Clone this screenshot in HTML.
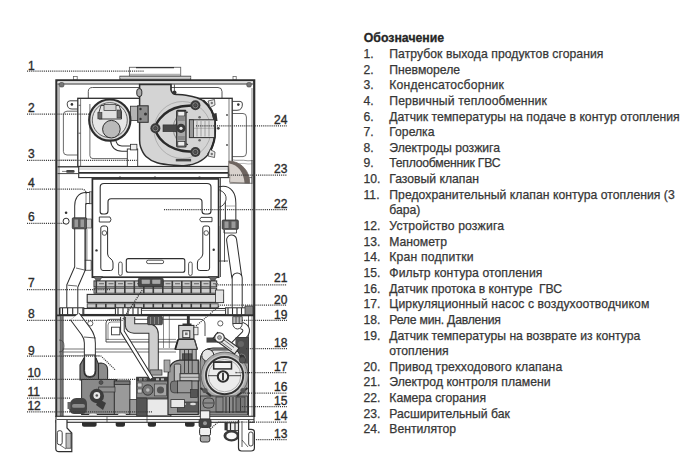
<!DOCTYPE html>
<html><head><meta charset="utf-8"><title>Boiler</title>
<style>
html,body{margin:0;padding:0;background:#fff;width:700px;height:471px;overflow:hidden}
svg{display:block;font-family:"Liberation Sans",sans-serif}
.d{stroke:#3a3a3a;stroke-width:1.25;stroke-dasharray:1.1 1;fill:none}
.lg text{font-size:12.2px;fill:#363636;stroke:#363636;stroke-width:0.25px}
.lb text{font-size:12px;fill:#2c2c2c;stroke:#2c2c2c;stroke-width:0.35px}
</style></head>
<body>
<svg width="700" height="471" viewBox="0 0 700 471">
<rect width="700" height="471" fill="#fff"/>
<g id="top" fill="none" stroke="#333">
  <!-- flue -->
  <rect x="129.4" y="67.3" width="51.3" height="8.8" fill="#fff" stroke="#666" stroke-width="0.9"/>
  <line x1="136" y1="67.6" x2="174" y2="67.6" stroke="#333" stroke-width="1.3"/>
  <line x1="129.8" y1="74.3" x2="180.3" y2="74.3" stroke="#777" stroke-width="0.7"/>
  <rect x="119.9" y="76.2" width="70.8" height="3.8" fill="#b5b5b5" stroke="#444" stroke-width="0.9"/>
  <line x1="120" y1="77.4" x2="190.6" y2="77.4" stroke="#ddd" stroke-width="0.8"/>
  <!-- top tabs -->
  <rect x="73.6" y="76.5" width="3.6" height="3.4" fill="#fff" stroke="#555" stroke-width="0.7"/>
  <rect x="233" y="76.5" width="3.2" height="3.4" fill="#fff" stroke="#555" stroke-width="0.7"/>
  <!-- outer frame -->
  <path d="M56.4,417 V80.3 H254.2 V417" stroke="#2e2e2e" stroke-width="2.2"/>
  <rect x="57.6" y="81.2" width="195.4" height="2.4" fill="#e2e2e2" stroke="none"/>
  <line x1="57.5" y1="84" x2="253" y2="84" stroke="#333" stroke-width="1.1"/>
  <line x1="59" y1="84" x2="59" y2="417" stroke="#444" stroke-width="0.8"/>
  <line x1="252" y1="88" x2="252" y2="417" stroke="#555" stroke-width="0.7"/>
  <rect x="59.4" y="82.5" width="4.5" height="4.5" rx="1.5" fill="#777" stroke="#444" stroke-width="0.6"/>
  <rect x="246.8" y="82.5" width="4.5" height="4.5" rx="1.5" fill="#777" stroke="#444" stroke-width="0.6"/>
  <!-- back panel -->
  <path d="M88.3,98 V91.5 Q88.3,87.5 92.5,87.5 H218 Q222,87.5 222,91.5 V98" stroke="#444" stroke-width="0.9"/>
  <path d="M77.8,111.2 H67 Q63.4,111.2 63.4,115 V151.5 Q63.4,155 67,155 H77.8" stroke="#444" stroke-width="0.8"/>
  <path d="M232.2,113.5 H243 Q246.4,113.5 246.4,117 V153 Q246.4,156.6 243,156.6 H232.2" stroke="#444" stroke-width="0.8"/>
  <!-- ears -->
  <path d="M77.8,100.8 H70 Q67.2,100.8 67.2,103.8 Q67.2,109 72,109 H77.8" fill="#fff" stroke="#333" stroke-width="0.9"/>
  <circle cx="71.9" cy="104.4" r="1.3" fill="#333" stroke="none"/>
  <path d="M232.2,101.4 H240 Q242.4,101.4 242.4,104 Q242.4,110.3 237,110.3 H232.2" fill="#fff" stroke="#333" stroke-width="0.9"/>
  <circle cx="238.3" cy="104.6" r="1.3" fill="#333" stroke="none"/>
  <!-- top box -->
  <rect x="77.8" y="98.3" width="154.4" height="68.2" fill="#fff" stroke="#2e2e2e" stroke-width="1.3"/>
  <line x1="80.6" y1="99" x2="80.6" y2="166" stroke="#444" stroke-width="0.7"/>
  <line x1="229" y1="99" x2="229" y2="166" stroke="#444" stroke-width="0.7"/>
  <line x1="78.5" y1="105.3" x2="80.6" y2="105.3" stroke="#444" stroke-width="0.8"/>
  <line x1="78.5" y1="133.2" x2="80.6" y2="133.2" stroke="#444" stroke-width="0.8"/>
  <path d="M89.9,104 V155.6 Q89.9,158.6 93,158.6 H128" stroke="#444" stroke-width="0.8"/>
  <circle cx="218.3" cy="128.3" r="1.4" fill="#444" stroke="none"/>
  <circle cx="227" cy="115" r="0.9" fill="#444" stroke="none"/>
  <circle cx="227" cy="145" r="0.9" fill="#444" stroke="none"/>
</g>
<g id="fan" stroke="#2e2e2e">
  <path d="M139.6,84.5 H171 V90 Q172,94.2 176.7,94.5 C178.2,94.6 182.6,94.8 186.0,95.3 C189.4,95.8 193.8,96.6 197.0,97.8 C200.2,99.0 203.1,100.4 205.5,102.5 C207.9,104.6 210.0,107.5 211.5,110.4 C213.0,113.3 214.0,116.9 214.6,120.0 C215.2,123.1 215.1,125.5 215.0,129.0 C214.9,132.5 215.2,136.7 214.0,141.0 C212.8,145.3 210.7,151.0 208.0,154.6 C205.3,158.2 201.6,160.5 197.9,162.3 C194.2,164.1 190.0,165.0 186.0,165.5 C182.0,166.0 178.8,165.8 174.0,165.3 C169.2,164.9 161.8,164.3 157.1,162.8 C152.4,161.3 148.8,159.1 146.0,156.5 C143.2,153.9 141.6,149.8 140.6,147.0 C139.6,144.2 139.6,141.2 139.6,140 Z" fill="#d4d4d4" stroke-width="1.5"/>
  <path d="M203.1,100.4 C207.9,104.6 210.0,107.5 211.5,110.4 C213.0,113.3 214.0,116.9 214.6,120.0 C215.2,123.1 215.1,125.5 215.0,129.0 C214.9,132.5 215.2,136.7 214.0,141.0 C212.8,145.3 210.7,151.0 208.0,154.6" fill="none" stroke="#2a2a2a" stroke-width="2.2"/>
  <path d="M212,114 L216.5,113 L217.5,121 L213.5,121 Z" fill="#333" stroke="none"/>
  <line x1="171" y1="84.5" x2="171" y2="90" stroke-width="0.8"/>
  <line x1="174.4" y1="84.5" x2="174.4" y2="92" stroke-width="0.8"/>
  <circle cx="174.5" cy="92.5" r="2" fill="#333" stroke="none"/>
  <rect x="136.8" y="88.6" width="5" height="8" rx="2.5" fill="#aaa" stroke-width="1"/>
  <circle cx="182.5" cy="130" r="28.5" fill="none" stroke="#888" stroke-width="0.5"/>
  <path d="M195.4,105.3 C193.0,105.5 185.4,105.6 181.0,106.5 C176.6,107.4 172.5,108.8 169.0,110.8 C165.5,112.8 162.3,115.6 160.0,118.5 C157.7,121.4 155.4,125.0 155.4,128.3 C155.4,131.6 157.7,135.6 160.0,138.5 C162.3,141.4 165.5,144.0 169.0,146.0 C172.5,148.0 176.6,149.5 181.0,150.5 C185.4,151.5 193.0,151.8 195.4,152.0" fill="none" stroke="#2a2a2a" stroke-width="2.5"/>
  <path d="M188,112 A17,17 0 0 0 188,144.6" fill="none" stroke="#333" stroke-width="1.1"/>
  <path d="M186,110 A19.5,19.5 0 0 0 186,146.6" fill="none" stroke="#555" stroke-width="0.6"/>
  <!-- motor right -->
  <rect x="189.4" y="119.8" width="25.3" height="17.8" fill="#dedede" stroke-width="1"/>
  <rect x="189.4" y="119.8" width="4" height="17.8" fill="#999" stroke-width="0.8"/>
  <line x1="197" y1="121" x2="197" y2="136.5" stroke="#777" stroke-width="0.6"/>
  <line x1="201" y1="121" x2="201" y2="136.5" stroke="#777" stroke-width="0.6"/>
  <line x1="205" y1="121" x2="205" y2="136.5" stroke="#777" stroke-width="0.6"/>
  <line x1="209" y1="121" x2="209" y2="136.5" stroke="#777" stroke-width="0.6"/>
  <line x1="193.5" y1="128.3" x2="214.5" y2="128.3" stroke="#555" stroke-width="0.6" stroke-dasharray="1 1"/>
  <!-- center vertical bar -->
  <rect x="176.7" y="110.4" width="9.3" height="36.6" rx="1" fill="#a8a8a8" stroke-width="1.2"/>
  <rect x="177.8" y="111.5" width="7" height="4.5" fill="#eee" stroke-width="0.7"/>
  <rect x="177.8" y="141.5" width="7" height="4.5" fill="#eee" stroke-width="0.7"/>
  <rect x="177.8" y="117" width="7" height="4" fill="#888" stroke="none"/>
  <rect x="177.8" y="136" width="7" height="4" fill="#888" stroke="none"/>
  <rect x="163" y="124.9" width="14" height="6.8" fill="#484848" stroke-width="0.6"/>
  <circle cx="181" cy="128.3" r="4.6" fill="#3a3a3a" stroke="none"/>
  <circle cx="181" cy="128.3" r="1.6" fill="#eee" stroke="none"/>
  <!-- bolts -->
  <g fill="#3a3a3a" stroke="none">
    <circle cx="195.4" cy="105.3" r="5"/><circle cx="155.4" cy="128.3" r="5"/><circle cx="195.4" cy="152" r="5"/>
  </g>
  <g fill="none" stroke="#999" stroke-width="0.8">
    <circle cx="195.4" cy="105.3" r="2.6"/><circle cx="155.4" cy="128.3" r="2.6"/><circle cx="195.4" cy="152" r="2.6"/>
  </g>
  <g fill="#555" stroke="none">
    <circle cx="195.4" cy="105.3" r="1.2"/><circle cx="155.4" cy="128.3" r="1.2"/><circle cx="195.4" cy="152" r="1.2"/>
  </g>
  <circle cx="199.6" cy="117.2" r="1.3" fill="#666" stroke="none"/>
  <circle cx="199.6" cy="140.2" r="1.3" fill="#666" stroke="none"/>
  <!-- tabs -->
  <path d="M208,101 L214.5,99.5 L215,105 L210,107.5 Z" fill="#e8e8e8" stroke-width="0.7"/>
  <circle cx="211.8" cy="103" r="1.2" fill="#777" stroke="none"/>
  <path d="M208,156 L214.5,157.5 L215,152 L210,149.5 Z" fill="#e8e8e8" stroke-width="0.7"/>
  <circle cx="211.8" cy="154" r="1.2" fill="#777" stroke="none"/>
  <rect x="175.8" y="158.9" width="15.3" height="2.5" fill="#444" stroke="none"/>
  <circle cx="189" cy="166" r="1.3" fill="#444" stroke="none"/>
  <!-- bracket -->
  <rect x="130.5" y="106.2" width="8" height="14.3" fill="#b4b4b4" stroke-width="0.8"/>
  <rect x="137.7" y="105.8" width="10.5" height="16.5" fill="#8c8c8c" stroke-width="1"/>
  <circle cx="140.5" cy="109" r="1.2" fill="#333" stroke="none"/>
  <circle cx="145.5" cy="114" r="1.5" fill="#333" stroke="none"/>
  <circle cx="140.5" cy="119" r="1.2" fill="#333" stroke="none"/>
</g>
<g id="pswitch" stroke="#2e2e2e">
  <path d="M113,139.5 Q114,148.6 122,148.6 H131" fill="none" stroke="#333" stroke-width="6.4"/>
  <path d="M113,139.5 Q114,148.6 122,148.6 H131" fill="none" stroke="#fff" stroke-width="4.2"/>
  <rect x="127.3" y="149" width="10.4" height="19.2" fill="#fff" stroke-width="0.9"/>
  <rect x="130.5" y="144.3" width="6.4" height="5.6" fill="#eee" stroke-width="0.8"/>
  <circle cx="109.8" cy="120.1" r="20.6" fill="#dcdcdc" stroke-width="2.2"/>
  <circle cx="109.8" cy="120.1" r="17.5" fill="#e6e6e6" stroke="#444" stroke-width="0.8"/>
  <path d="M99,112 L101,105.5 H119 L121.5,112 V119 H99 Z" fill="#e2e2e2" stroke-width="0.9"/>
  <rect x="104" y="104.5" width="12" height="6" fill="#d2d2d2" stroke-width="0.7"/>
  <rect x="97.9" y="112.5" width="4" height="6.4" fill="#6a6a6a" stroke-width="0.6"/>
  <rect x="117" y="110" width="4" height="8" fill="#6a6a6a" stroke-width="0.6"/>
  <circle cx="111.4" cy="129.2" r="8.8" fill="#bababa" stroke-width="1"/>
</g>

<g id="plate" stroke="#2e2e2e" fill="none">
  <line x1="57.5" y1="166.8" x2="78.5" y2="166.8" stroke-width="1.3"/>
  <line x1="57.5" y1="173.6" x2="78.5" y2="173.6" stroke-width="0.9"/>
  <rect x="66.1" y="170" width="8.5" height="2.8" rx="1.2" fill="#444" stroke="none"/>
  <line x1="62" y1="171.4" x2="66" y2="171.4" stroke-width="0.6"/>
  <rect x="78.7" y="166.6" width="149.6" height="11" fill="#fff" stroke-width="1.1"/>
  <line x1="79" y1="172.9" x2="228" y2="172.9" stroke-width="1.8"/>
  <line x1="78.6" y1="169" x2="228.3" y2="169" stroke="#777" stroke-width="0.5"/>
  <line x1="228.3" y1="177.6" x2="252" y2="177.6" stroke-width="0.7"/>
  <circle cx="120" cy="177.8" r="1.3" fill="#333" stroke="none"/>
  <circle cx="155" cy="177.8" r="1.3" fill="#333" stroke="none"/>
  <circle cx="199.5" cy="177.8" r="1.3" fill="#333" stroke="none"/>
  <line x1="59" y1="160" x2="78" y2="160" stroke="#888" stroke-width="0.5"/>
</g>
<g id="tank">
  <path d="M232,159.8 C236,161 242,159.5 248,160.8 L252.5,160.5" fill="none" stroke="#555" stroke-width="0.6"/>
  <path d="M232,163 C237,164.5 243,162.5 248,164 L252.5,163.8" fill="none" stroke="#777" stroke-width="0.5"/>
  <line x1="252" y1="160" x2="252" y2="184" stroke="#444" stroke-width="0.8"/>
  <path d="M228.8,161 A21,21 0 0 1 249.6,183.3 L229.6,182.3 Q230.2,177 229.2,172 Q228.5,166 228.8,161 Z" fill="#d8d2cd" stroke="#6b625c" stroke-width="0.7"/>
  <path d="M228.8,161 A21,21 0 0 1 249.6,183.3 L244.6,183.3 C244,173 238,164.5 229.2,163.6 Z" fill="#6e6560" stroke="none"/>
  <line x1="229.6" y1="183.3" x2="252" y2="183.3" stroke="#555" stroke-width="0.7"/>
</g>
<g id="pipes_up" fill="none" stroke="#2e2e2e">
  <!-- left upper pipe -->
  <path d="M91.6,198 H86 Q80.2,198 80.2,206 V268 L72.3,286 V308" stroke="#2e2e2e" stroke-width="12"/>
  <path d="M91.6,198 H86 Q80.2,198 80.2,206 V268 L72.3,286 V308" stroke="#fff" stroke-width="10"/>
  <line x1="76" y1="268" x2="84.5" y2="270" stroke-width="0.7"/>
  <line x1="67.6" y1="285.2" x2="77" y2="286" stroke-width="0.7"/>
  <path d="M86,191.5 V205" stroke-width="0.6"/>
  <rect x="89.5" y="191.8" width="2.6" height="12" fill="#ccc" stroke-width="0.6"/>
  <path d="M84.8,229 V270.3 H91.2 V260.3 H84.8" stroke-width="0.8"/>
  <line x1="87" y1="229" x2="87" y2="260" stroke-width="0.5"/>
  <!-- left fitting -->
  <rect x="72.3" y="217.8" width="14.4" height="11" rx="1" fill="#5a5a5a" stroke-width="0.8"/>
  <rect x="74.5" y="219.5" width="3.5" height="7.5" fill="#9a9a9a" stroke="none"/>
  <rect x="80.5" y="219.5" width="3.5" height="7.5" fill="#9a9a9a" stroke="none"/>
  <rect x="86.6" y="219" width="5" height="9" fill="#cfcfcf" stroke-width="0.6"/>
  <!-- sensor 6 -->
  <circle cx="66.1" cy="221.2" r="3" fill="#fff" stroke-width="1"/>
  <circle cx="66.1" cy="212.7" r="1.3" fill="#333" stroke="none"/>
  <!-- right upper pipe -->
  <path d="M220,192 C228,190 230.6,196 230.6,203 V224" stroke="#2e2e2e" stroke-width="11.5"/>
  <path d="M220,192 C228,190 230.6,196 230.6,203 V224" stroke="#fff" stroke-width="9.5"/>
  <path d="M231.6,240 L236.6,276" stroke="#2e2e2e" stroke-width="11" stroke-linecap="round"/>
  <path d="M231.6,240 L236.6,276" stroke="#fff" stroke-width="9" stroke-linecap="round"/>
  <path d="M237.2,278 V309" stroke="#2e2e2e" stroke-width="11" stroke-linecap="round"/>
  <path d="M237.2,278 V309" stroke="#fff" stroke-width="9" stroke-linecap="round"/>
  <path d="M224,229.3 V233 H236.5 V229.3" fill="none" stroke="#2e2e2e" stroke-width="0.8"/>
  <line x1="218.8" y1="226" x2="218.8" y2="262" stroke="#2e2e2e" stroke-width="0.8"/>
  <line x1="224.5" y1="230" x2="224.5" y2="262" stroke="#2e2e2e" stroke-width="0.8"/>
  <line x1="218.8" y1="261" x2="228" y2="261" stroke="#2e2e2e" stroke-width="0.8"/>
  <path d="M219.5,190 Q227,193 226,200 Q224,206 219.5,207" fill="#fff" stroke-width="0.9"/>
  <line x1="225.5" y1="206" x2="235.7" y2="206" stroke="#777" stroke-width="0.6"/>
  <!-- right fitting -->
  <rect x="222.2" y="220" width="16.1" height="9.3" rx="1" fill="#5a5a5a" stroke-width="0.8"/>
  <rect x="224.5" y="221.5" width="4" height="6.5" fill="#9a9a9a" stroke="none"/>
  <rect x="231.5" y="221.5" width="4" height="6.5" fill="#9a9a9a" stroke="none"/>
  
</g>
<g id="chamber" stroke="#2e2e2e" fill="none">
  <rect x="92.4" y="178.9" width="126.2" height="98.3" fill="#fff" stroke-width="1.7"/>
  <line x1="220.5" y1="178" x2="220.5" y2="277" stroke-width="0.8"/>
  <path d="M100.2,212 V187 Q100.2,183.5 104,183.5 H207 Q211,183.5 211,187 V211 Q211,214 208,214 H205 Q202,214 202,211 V202 Q202,198.8 199,198.8 H111 Q108,198.8 108,202 V211 Q108,214 105,214 H103 Q100.2,214 100.2,212 Z" stroke-width="1.1"/>
  <path d="M99.3,217 H110 Q112,219.5 110,222 H99.3 Z" stroke-width="0.9"/>
  <path d="M212,217.4 H201 Q198.4,219.5 201,221.7 H212 Z" stroke-width="0.9"/>
  <path d="M100.8,228 Q100.8,226 103,226 H105.5 Q107.6,226 107.6,228 V254 Q107.6,257 111,259 Q113,260.5 113,263 V268 Q113,270.5 110.5,270.5 H103 Q100.8,270.5 100.8,268 Z" stroke-width="1"/>
  <path d="M209.6,228 Q209.6,226 207.4,226 H204.9 Q202.8,226 202.8,228 V254 Q202.8,257 199.4,259 Q197.4,260.5 197.4,263 V268 Q197.4,270.5 199.9,270.5 H207.4 Q209.6,270.5 209.6,268 Z" stroke-width="1"/>
  <circle cx="104.4" cy="233" r="2.3" stroke-width="0.8"/>
  <circle cx="206.2" cy="233" r="2.3" stroke-width="0.8"/>
  <rect x="126.3" y="258.6" width="58.5" height="13.6" rx="2" stroke-width="1.1"/>
  <rect x="146.5" y="260.2" width="17.2" height="3.4" rx="1.7" stroke-width="0.8"/>
  <rect x="118.6" y="262" width="3.6" height="13.5" rx="1.8" stroke-width="0.8"/>
  <rect x="188.6" y="262" width="3.6" height="13.5" rx="1.8" stroke-width="0.8"/>
  <circle cx="96.5" cy="250.4" r="1.2" fill="#333" stroke="none"/>
  <circle cx="213.7" cy="249.7" r="1.2" fill="#333" stroke="none"/>
  <circle cx="155" cy="199.5" r="0" fill="#333" stroke="none"/>
</g>

<g id="burner" stroke="#2e2e2e">
<path d="M93.5,276.5 H102.5 L100,280 V282.5 H96 V280 Z" fill="#666" stroke-width="0.6"/>
<path d="M208.5,276.5 H217.4 L215,280 V283 H211 V280 Z" fill="#666" stroke-width="0.6"/>
<rect x="94" y="280.9" width="122.7" height="6" fill="#c9c9c9" stroke-width="1"/>
<rect x="94" y="288.2" width="122.7" height="5" fill="#cdcdcd" stroke-width="0.9"/>
<rect x="87.2" y="294.4" width="136" height="8" fill="#dadada" stroke-width="1.1"/>
<rect x="215.5" y="290" width="8.2" height="12.7" fill="#e4e4e4" stroke-width="0.8"/>
<rect x="87.2" y="303.8" width="131" height="4" fill="#c9c9c9" stroke-width="0.8"/>
<rect x="95.5" y="281" width="1.6" height="12.2" fill="#3a3a3a" stroke="none"/>
<rect x="95.5" y="303.8" width="1.6" height="4" fill="#3a3a3a" stroke="none"/>
<rect x="105.0" y="281" width="1.6" height="12.2" fill="#3a3a3a" stroke="none"/>
<rect x="105.0" y="303.8" width="1.6" height="4" fill="#3a3a3a" stroke="none"/>
<rect x="114.5" y="281" width="1.6" height="12.2" fill="#3a3a3a" stroke="none"/>
<rect x="114.5" y="303.8" width="1.6" height="4" fill="#3a3a3a" stroke="none"/>
<rect x="124.0" y="281" width="1.6" height="12.2" fill="#3a3a3a" stroke="none"/>
<rect x="124.0" y="303.8" width="1.6" height="4" fill="#3a3a3a" stroke="none"/>
<rect x="133.5" y="281" width="1.6" height="12.2" fill="#3a3a3a" stroke="none"/>
<rect x="133.5" y="303.8" width="1.6" height="4" fill="#3a3a3a" stroke="none"/>
<rect x="143.0" y="281" width="1.6" height="12.2" fill="#3a3a3a" stroke="none"/>
<rect x="143.0" y="303.8" width="1.6" height="4" fill="#3a3a3a" stroke="none"/>
<rect x="152.5" y="281" width="1.6" height="12.2" fill="#3a3a3a" stroke="none"/>
<rect x="152.5" y="303.8" width="1.6" height="4" fill="#3a3a3a" stroke="none"/>
<rect x="162.0" y="281" width="1.6" height="12.2" fill="#3a3a3a" stroke="none"/>
<rect x="162.0" y="303.8" width="1.6" height="4" fill="#3a3a3a" stroke="none"/>
<rect x="171.5" y="281" width="1.6" height="12.2" fill="#3a3a3a" stroke="none"/>
<rect x="171.5" y="303.8" width="1.6" height="4" fill="#3a3a3a" stroke="none"/>
<rect x="181.0" y="281" width="1.6" height="12.2" fill="#3a3a3a" stroke="none"/>
<rect x="181.0" y="303.8" width="1.6" height="4" fill="#3a3a3a" stroke="none"/>
<rect x="190.5" y="281" width="1.6" height="12.2" fill="#3a3a3a" stroke="none"/>
<rect x="190.5" y="303.8" width="1.6" height="4" fill="#3a3a3a" stroke="none"/>
<rect x="200.0" y="281" width="1.6" height="12.2" fill="#3a3a3a" stroke="none"/>
<rect x="200.0" y="303.8" width="1.6" height="4" fill="#3a3a3a" stroke="none"/>
<rect x="209.5" y="281" width="1.6" height="12.2" fill="#3a3a3a" stroke="none"/>
<rect x="209.5" y="303.8" width="1.6" height="4" fill="#3a3a3a" stroke="none"/>
<rect x="99.0" y="283" width="5" height="1.3" fill="#777" stroke="none"/>
<rect x="108.5" y="283" width="5" height="1.3" fill="#777" stroke="none"/>
<rect x="118.0" y="283" width="5" height="1.3" fill="#777" stroke="none"/>
<rect x="127.5" y="283" width="5" height="1.3" fill="#777" stroke="none"/>
<rect x="137.0" y="283" width="5" height="1.3" fill="#777" stroke="none"/>
<rect x="146.5" y="283" width="5" height="1.3" fill="#777" stroke="none"/>
<rect x="156.0" y="283" width="5" height="1.3" fill="#777" stroke="none"/>
<rect x="165.5" y="283" width="5" height="1.3" fill="#777" stroke="none"/>
<rect x="175.0" y="283" width="5" height="1.3" fill="#777" stroke="none"/>
<rect x="184.5" y="283" width="5" height="1.3" fill="#777" stroke="none"/>
<rect x="194.0" y="283" width="5" height="1.3" fill="#777" stroke="none"/>
<rect x="203.5" y="283" width="5" height="1.3" fill="#777" stroke="none"/>
<rect x="213.0" y="283" width="5" height="1.3" fill="#777" stroke="none"/>
<rect x="138.4" y="277.9" width="24.8" height="8.9" rx="1.5" fill="#4a4a4a" stroke-width="0.8"/>
<rect x="141.3" y="279.3" width="9" height="5" rx="1" fill="#a8a8a8" stroke="#333" stroke-width="0.6"/>
<rect x="151.8" y="279.3" width="9" height="5" rx="1" fill="#a8a8a8" stroke="#333" stroke-width="0.6"/>
<rect x="59.5" y="308.5" width="194" height="6" fill="#fff" stroke-width="1.1"/>
<line x1="141" y1="310.5" x2="225" y2="310.5" stroke-width="0.6"/>
<rect x="60" y="307.8" width="23.8" height="7" fill="#fff" stroke-width="1"/>
<line x1="62.5" y1="308" x2="62.5" y2="314.6" stroke-width="1.1"/>
<line x1="67.6" y1="308" x2="67.6" y2="314.6" stroke-width="1.1"/>
<line x1="72.7" y1="308" x2="72.7" y2="314.6" stroke-width="1.1"/>
<line x1="77.8" y1="308" x2="77.8" y2="314.6" stroke-width="1.1"/>
<line x1="82.9" y1="308" x2="82.9" y2="314.6" stroke-width="1.1"/>
<rect x="115.4" y="307.8" width="26" height="7" fill="#fff" stroke-width="1"/>
<line x1="118" y1="308" x2="118" y2="314.6" stroke-width="1.1"/>
<line x1="123" y1="308" x2="123" y2="314.6" stroke-width="1.1"/>
<line x1="128" y1="308" x2="128" y2="314.6" stroke-width="1.1"/>
<line x1="133" y1="308" x2="133" y2="314.6" stroke-width="1.1"/>
<line x1="138" y1="308" x2="138" y2="314.6" stroke-width="1.1"/>
<rect x="225.6" y="307.8" width="28" height="7" fill="#fff" stroke-width="1"/>
<line x1="228" y1="308" x2="228" y2="314.6" stroke-width="1.1"/>
<line x1="232.5" y1="308" x2="232.5" y2="314.6" stroke-width="1.1"/>
<line x1="237" y1="308" x2="237" y2="314.6" stroke-width="1.1"/>
<line x1="241.5" y1="308" x2="241.5" y2="314.6" stroke-width="1.1"/>
<line x1="246" y1="308" x2="246" y2="314.6" stroke-width="1.1"/>
<line x1="250.5" y1="308" x2="250.5" y2="314.6" stroke-width="1.1"/>
<rect x="245" y="306" width="8" height="9" fill="#888" stroke-width="0.7"/>
<line x1="56" y1="315.4" x2="254.5" y2="315.4" stroke-width="1.6"/>
</g>
<g id="lower_bg" fill="none" stroke="#3a3a3a">
  <line x1="61.8" y1="316" x2="61.8" y2="417" stroke="#777" stroke-width="2.6"/>
  <line x1="60.4" y1="316" x2="60.4" y2="417" stroke="#333" stroke-width="0.7"/>
  <line x1="63.2" y1="316" x2="63.2" y2="417" stroke="#333" stroke-width="0.7"/>
  <path d="M59,340 Q64,340 64,346 Q64,352 59,352" stroke-width="0.7"/>
  <line x1="62.5" y1="349" x2="176" y2="349" stroke-width="0.7"/>
  <line x1="62.5" y1="352" x2="176" y2="352" stroke-width="0.7"/>
  <line x1="59" y1="355.5" x2="100" y2="355.5" stroke="#777" stroke-width="0.5"/>
  <path d="M106,342 V323 Q106,319.3 110,319.3 H200 Q205,319.3 205,324 V336" stroke-width="0.9"/>
  <path d="M108,340 V325 Q108,322 111,322 H120" stroke-width="0.6"/>
  <line x1="106" y1="342" x2="176" y2="342" stroke-width="0.9"/>
  <line x1="106" y1="339.4" x2="176" y2="339.4" stroke-width="0.6"/>
  <rect x="111.5" y="327.2" width="8.3" height="7.6" fill="#fff" stroke-width="0.9"/>
  <circle cx="90.3" cy="323.4" r="2.6" fill="#fff" stroke-width="0.8"/>
  <circle cx="220.3" cy="323.4" r="2.6" fill="#fff" stroke-width="0.8"/>
  <line x1="163.5" y1="316" x2="163.5" y2="348" stroke-width="0.6"/>
  <line x1="169.3" y1="316" x2="169.3" y2="348" stroke-width="0.6"/>
  <line x1="248.5" y1="316" x2="248.5" y2="416" stroke-width="0.8"/>
</g>
<g id="lower_pipes" fill="none">
  <!-- left lower pipe -->
  <path d="M74.8,316.5 L86,331.5 Q89.85,337 89.85,343 V374" stroke="#2e2e2e" stroke-width="12"/>
  <path d="M74.8,316.5 L86,331.5 Q89.85,337 89.85,343 V374" stroke="#fff" stroke-width="10"/>
  <line x1="83.9" y1="337" x2="95.8" y2="338" stroke="#333" stroke-width="0.8"/>
  <!-- diagonal pipe -->

  <!-- U pipe + horizontal + vertical gray -->
  <path d="M130,317 V325 Q130,328.5 134,328.5 H148 Q153.6,328.5 153.6,334 V372" stroke="#2e2e2e" stroke-width="10.4"/>
  <path d="M130,317 V325 Q130,328.5 134,328.5 H148 Q153.6,328.5 153.6,334 V372" stroke="#cfcfcf" stroke-width="8.4"/>
  <rect x="147.6" y="316.3" width="14.8" height="8.4" rx="1" fill="#555" stroke="#2e2e2e" stroke-width="0.7"/>
  <line x1="150.5" y1="317" x2="150.5" y2="324" stroke="#999" stroke-width="0.8"/>
  <line x1="154.5" y1="317" x2="154.5" y2="324" stroke="#999" stroke-width="0.8"/>
  <line x1="158.5" y1="317" x2="158.5" y2="324" stroke="#999" stroke-width="0.8"/>
  <rect x="150" y="369.9" width="12" height="5.2" fill="#9a9a9a" stroke="#2e2e2e" stroke-width="0.7"/>
  <!-- right lower pipe -->
  <path d="M241.5,325.5 Q248.5,328 245,334 L231,348" stroke="#2e2e2e" stroke-width="7.6"/>
  <path d="M241.5,325.5 Q248.5,328 245,334 L231,348" stroke="#fff" stroke-width="5.6"/>
  <path d="M232.8,323.5 A4.7,5.5 0 0 0 242.2,323.5 Z" fill="#fff" stroke="#2e2e2e" stroke-width="0.9"/>
  <rect x="232.8" y="316.7" width="9.4" height="6.8" fill="#bdbdbd" stroke="#2e2e2e" stroke-width="0.8"/>
  <line x1="236" y1="317" x2="236" y2="323" stroke="#444" stroke-width="0.9"/>
  <line x1="239.2" y1="317" x2="239.2" y2="323" stroke="#444" stroke-width="0.9"/>
</g>
<g id="hyd" stroke="#2e2e2e">
  <!-- connector around pipe -->
  <path d="M96,380 V368 Q96,363 101,363 Q107.6,363.5 107.6,370 V380 Z" fill="#8c8c8c" stroke-width="1.1"/>
  <path d="M80,380 V365 L84,358 H96 L98.5,364 V380 Z" fill="#7a7a7a" stroke-width="1.1"/>
  <path d="M84.6,358 V370.5 Q84.6,376.5 89.85,376.5 Q95.1,376.5 95.1,370.5 V358" fill="none" stroke="#2a2a2a" stroke-width="2.4"/>
  <path d="M84.6,355 V370.5 Q84.6,376.5 89.85,376.5 Q95.1,376.5 95.1,370.5 V355 Z" fill="#fff" stroke-width="1"/>
  <!-- main block -->
  <rect x="81.6" y="379.5" width="34.9" height="35" fill="#8a8a8a" stroke-width="1"/>
  <rect x="114.3" y="381" width="15.6" height="33.5" fill="#9a9a9a" stroke-width="1"/>
  <rect x="114.3" y="381" width="15.6" height="3.5" fill="#777" stroke-width="0.8"/>
  <rect x="98.7" y="387" width="16.3" height="5" fill="#8f8f8f" stroke-width="0.7"/>
  <rect x="129.9" y="399.6" width="10" height="14.9" fill="#999" stroke-width="0.8"/>
  <circle cx="101" cy="382.5" r="2" fill="#555" stroke-width="0.5"/>
  <!-- dial -->
  <circle cx="96.8" cy="396" r="7.2" fill="#3c3c3c" stroke="none"/>
  <circle cx="96.8" cy="395.5" r="3.4" fill="#e6e6e6" stroke="none"/>
  <circle cx="96.8" cy="395.5" r="1.3" fill="#555" stroke="none"/>
  <path d="M99,399 L106,403 L103,410 L96,405 Z" fill="#3c3c3c" stroke="none"/>
  <!-- safety valve -->
  <path d="M71,401 Q73,397.8 77,398 H83 Q87,399 87,404 V409 Q86.5,414 82,414 H74 Q69,413.5 69,408 V404 Z" fill="#454545" stroke="none"/>
  <rect x="72" y="404" width="13" height="3.8" rx="1.9" fill="#8a8a8a" stroke="none"/>
  <rect x="67.5" y="402" width="3" height="7" fill="#666" stroke="none"/>
  <!-- nuts at bottom of block -->
  <ellipse cx="93" cy="415" rx="4" ry="1.4" fill="#eee" stroke="none"/>
  <ellipse cx="122" cy="415" rx="4" ry="1.4" fill="#eee" stroke="none"/>
</g>
<g id="gasvalve" stroke="#2e2e2e">
  <rect x="136.7" y="377.3" width="31.2" height="20.8" fill="#8a8a8a" stroke-width="1"/>
  <rect x="136.7" y="377.3" width="31.2" height="4.2" fill="#3e3e3e" stroke="none"/>
  <rect x="139" y="378.3" width="3" height="2" fill="#ccc" stroke="none"/>
  <rect x="143.5" y="378.3" width="3" height="2" fill="#bbb" stroke="none"/>
  <rect x="156" y="378.3" width="3" height="2" fill="#bbb" stroke="none"/>
  <rect x="161" y="378.3" width="3" height="2" fill="#bbb" stroke="none"/>
  <rect x="137.5" y="383" width="4.5" height="4" fill="#ccc" stroke-width="0.5"/>
  <rect x="137.5" y="389" width="4.5" height="4" fill="#ccc" stroke-width="0.5"/>
  <circle cx="147.8" cy="390" r="5.2" fill="#777" stroke-width="0.9"/>
  <circle cx="147.8" cy="390" r="1.8" fill="#bbb" stroke="none"/>
  <rect x="154.5" y="384" width="11.9" height="11.9" fill="#a5a5a5" stroke-width="0.6"/>
  <circle cx="160.5" cy="390" r="3.6" fill="#555" stroke="none"/>
  <rect x="136.7" y="398" width="9.7" height="19" fill="#555" stroke-width="0.7"/>
  <rect x="147.1" y="398.9" width="23.8" height="17.1" fill="#e9e9e9" stroke-width="1"/>
  <path d="M122.4,317 V331.5 L151.5,378.5" fill="none" stroke="#2e2e2e" stroke-width="4.6"/>
  <path d="M122.4,317 V331.5 L151.3,378.2" fill="none" stroke="#fff" stroke-width="2.6"/>
</g>
<g id="threeway" stroke="#2e2e2e">
  <rect x="186.9" y="314.9" width="2.9" height="10.5" fill="#333" stroke="none"/>
  <rect x="182.5" y="323.5" width="9" height="2.5" fill="#333" stroke="none"/>
  <rect x="178.7" y="325.4" width="15.2" height="13.5" fill="#d2d2d2" stroke-width="1.1"/>
  <rect x="182.8" y="330.7" width="7" height="7" fill="#eee" stroke-width="1"/>
  <rect x="185" y="332.5" width="2.6" height="2.6" fill="#777" stroke="none"/>
  <rect x="193.9" y="327.2" width="4.1" height="7.6" fill="#eee" stroke-width="0.7"/>
  <path d="M178,339.5 H194.5 L197.4,349.4 H175.2 Z" fill="#c8c8c8" stroke-width="1"/>
  <path d="M175.2,349.4 L178,339.5" fill="none" stroke="#222" stroke-width="1.8"/>
  <path d="M197.4,349.4 L194.5,339.5" fill="none" stroke="#444" stroke-width="1.2"/>
  <rect x="179.9" y="349.4" width="16.3" height="11" fill="#b0b0b0" stroke-width="0.9"/>
  <path d="M168,377 Q168,361 180,360.1 H198.3 V414.5 H168 Z" fill="#999" stroke-width="1.2"/>
  <rect x="182.3" y="353.8" width="9.6" height="5.5" fill="#555" stroke-width="0.6"/>
  <line x1="184.5" y1="350" x2="184.5" y2="373" stroke-width="0.8"/>
  <line x1="188.5" y1="350" x2="188.5" y2="373" stroke-width="0.8"/>
  <line x1="192.2" y1="350" x2="192.2" y2="373" stroke-width="0.8"/>
  <rect x="174.3" y="364" width="6.4" height="17.7" rx="1.5" fill="#bdbdbd" stroke-width="0.9"/>
  <rect x="180" y="373.7" width="19" height="7.2" fill="#c6c6c6" stroke-width="1"/>
  <line x1="180" y1="377.3" x2="199" y2="377.3" stroke-width="0.6"/>
  <path d="M170.5,384 Q170.5,381 174,381 H178 V392.8 H174 Q170.5,392.8 170.5,389 Z" fill="#777" stroke-width="0.7"/>
  <rect x="177.5" y="380.9" width="14.4" height="11.9" fill="#9a9a9a" stroke-width="0.8"/>
  <rect x="190.3" y="389.6" width="7.2" height="8" fill="#555" stroke-width="0.6"/>
  <rect x="177.5" y="402" width="20.8" height="10" fill="#5a5a5a" stroke-width="0.7"/>
  <ellipse cx="183" cy="404" rx="3" ry="1.3" fill="#ddd" stroke="none"/>
  <ellipse cx="193" cy="404" rx="3" ry="1.3" fill="#ddd" stroke="none"/>
  <rect x="164" y="360" width="6" height="12" fill="#a8a8a8" stroke-width="0.6"/>
  <rect x="170.9" y="399.6" width="13.6" height="8" fill="#e8e8e8" stroke-width="0.8"/>
</g>

<g id="pump" stroke="#2e2e2e">
  <path d="M200,414.5 V362 Q200,348 213,348 H236 V337.5 H248.5 V414.5 Z" fill="#9a9a9a" stroke-width="1"/>
  <rect x="236" y="337.5" width="12.5" height="26" fill="#4e4e4e" stroke="none"/>
  <circle cx="241.5" cy="358" r="4" fill="#333" stroke="#888" stroke-width="0.8"/>
  <circle cx="241" cy="344" r="3" fill="#666" stroke="none"/>
  <rect x="206.5" y="337.5" width="11.5" height="5.1" fill="#444" stroke="none"/>
  <path d="M205,360 Q205,350 214,350 H233 Q240,350 240,358 V366 H205 Z" fill="#e2e2e2" stroke-width="0.9"/>
  <circle cx="207.8" cy="355.3" r="6" fill="#e6e6e6" stroke-width="1"/>
  <circle cx="224.6" cy="375.6" r="23.5" fill="#a8a8a8" stroke="#555" stroke-width="0.8"/>
  <circle cx="224.6" cy="375.6" r="21" fill="#c8c8c8" stroke="none"/>
  <circle cx="224.6" cy="375.6" r="18.6" fill="#ececec" stroke="#333" stroke-width="1.9"/>
  <circle cx="224.6" cy="375.6" r="16.2" fill="none" stroke="#888" stroke-width="0.6"/>
  <line x1="208" y1="375.7" x2="241" y2="375.7" stroke-width="0.9"/>
  <rect x="213.7" y="362.1" width="17.8" height="6.8" fill="#f4f4f4" stroke-width="1.5"/>
  <rect x="213.2" y="361.4" width="18.8" height="1.6" fill="#2e2e2e" stroke="none"/>
  <circle cx="223" cy="376.5" r="5.2" fill="#f2f2f2" stroke="#2e2e2e" stroke-width="2"/>
  <rect x="222.1" y="372.8" width="1.8" height="7.4" fill="#2e2e2e" stroke="none"/>
  <path d="M235,372.6 h1.8 M235.9,371.7 v1.8" stroke="#555" stroke-width="0.5"/>
  <circle cx="242.5" cy="360" r="3.2" fill="#555" stroke="#333" stroke-width="0.6"/>
  <!-- lower braces -->
  <rect x="200.5" y="396" width="47" height="19" fill="#8c8c8c" stroke-width="0.8"/>
  <path d="M200.5,388 L211,396 M247.5,388 L237,396" stroke="#333" stroke-width="2" fill="none"/>
  <rect x="203" y="398" width="11" height="10" rx="4" fill="#8a8a8a" stroke-width="0.8"/>
  <line x1="203.5" y1="403" x2="213.5" y2="403" stroke-width="0.7"/>
  <rect x="216" y="397" width="7" height="15" fill="#888" stroke-width="0.7"/>
  <line x1="226" y1="397" x2="226" y2="413" stroke-width="1"/>
  <line x1="229.5" y1="397" x2="229.5" y2="413" stroke-width="1"/>
  <line x1="233" y1="397" x2="233" y2="413" stroke-width="1"/>
  <rect x="236" y="397" width="9" height="15" fill="#777" stroke-width="0.7"/>
  <line x1="240.5" y1="398" x2="240.5" y2="411" stroke-width="0.8"/>
  <line x1="200.5" y1="412" x2="247.5" y2="412" stroke-width="0.9"/>
  <circle cx="205" cy="390.5" r="2.6" fill="#555" stroke="none"/>
  <circle cx="243" cy="390.5" r="2.6" fill="#555" stroke="none"/>
  <!-- air vent -->
  <path d="M217.5,332.5 L239,348 L234.5,354 L213,338.5 Z" fill="#e6e6e6" stroke-width="1.1"/>
  <line x1="222" y1="338.5" x2="234" y2="347.5" stroke-width="0.7"/>
  <line x1="220" y1="341" x2="232" y2="350" stroke-width="0.7"/>
  <circle cx="219.5" cy="337.5" r="4.8" fill="#f4f4f4" stroke-width="1.1"/>
  <circle cx="219.5" cy="337.5" r="2" fill="#aaa" stroke-width="0.5"/>
</g>
<g id="bottom" stroke="#2e2e2e">
  <rect x="56" y="416.3" width="198" height="6" fill="#fff" stroke-width="1.1"/>
  <line x1="57" y1="419.6" x2="254" y2="419.6" stroke-width="0.9"/>
  <line x1="107" y1="416.5" x2="107" y2="422" stroke-width="0.7"/>
  <line x1="147" y1="416.5" x2="147" y2="422" stroke-width="0.7"/>
  <path d="M82,422.3 H96.6 V425 Q96.6,426.8 94.5,426.8 H84 Q82,426.8 82,425 Z" fill="#2e2e2e" stroke="none"/>
  <path d="M115.7,422.3 H125 V425 Q125,426.8 123,426.8 H117.7 Q115.7,426.8 115.7,425 Z" fill="#2e2e2e" stroke="none"/>
  <path d="M147.8,422.3 H156 V425 Q156,426.8 154,426.8 H149.8 Q147.8,426.8 147.8,425 Z" fill="#2e2e2e" stroke="none"/>
  <path d="M185,422.3 H194.6 V425 Q194.6,426.8 192.6,426.8 H187 Q185,426.8 185,425 Z" fill="#2e2e2e" stroke="none"/>
  <!-- valve 14 -->
  <rect x="200.3" y="410.8" width="9.5" height="8.3" fill="#f0f0f0" stroke-width="0.9"/>
  <rect x="199" y="419.1" width="12.1" height="8.3" rx="2" fill="#454545" stroke-width="0.8"/>
  <circle cx="205" cy="423.2" r="2" fill="#999" stroke="none"/>
  <rect x="199.6" y="427.4" width="10.9" height="8.3" rx="2" fill="#f0f0f0" stroke-width="1"/>
  <rect x="200.3" y="435.7" width="9.5" height="6.3" rx="2" fill="#aaa" stroke-width="1"/>
  <!-- fitting 13 -->
  <rect x="227" y="422.9" width="12.8" height="7.7" fill="#f0f0f0" stroke-width="0.9"/>
  <line x1="230.5" y1="423" x2="230.5" y2="430.5" stroke-width="1.2"/>
  <line x1="235" y1="423" x2="235" y2="430.5" stroke-width="1.2"/>
  <rect x="224.5" y="422.3" width="3" height="8" fill="#333" stroke="none"/>
  <ellipse cx="231.5" cy="435.7" rx="8" ry="5.7" fill="#3a3a3a" stroke="none"/>
  <ellipse cx="231.5" cy="435.9" rx="5.2" ry="3.3" fill="#fafafa" stroke="none"/>
  <!-- legs -->
  <path d="M55.8,420 V448.5 Q55.8,451.7 59,451.7 H71.8 V433 L67,428 V420" fill="#fff" stroke-width="1.2"/>
  <rect x="57.3" y="430.7" width="4.9" height="14" rx="2" fill="#fff" stroke-width="0.9"/>
  <rect x="66" y="433.2" width="5" height="15" fill="#bdbdbd" stroke-width="0.7"/>
  <line x1="60" y1="445" x2="66" y2="449" stroke-width="0.7"/>
  <path d="M238.5,420 V448 Q238.5,451 241.5,451 H251 Q254.4,451 254.4,448 V432 Q254.4,429.3 251,429.3 H248.7 V420" fill="#fff" stroke-width="1.2"/>
  <rect x="248.7" y="432" width="4.3" height="14" rx="2" fill="#fff" stroke-width="0.9"/>
  <line x1="242" y1="421" x2="242" y2="447" stroke-width="0.8"/>
  <line x1="242" y1="440" x2="248" y2="447" stroke-width="0.7"/>
</g>

<g class="lb">
<text x="28.0" y="69.6">1</text>
<path class="d" d="M27,71.1 H143.6"/>
<text x="28.0" y="111.6">2</text>
<path class="d" d="M27,114 H90"/>
<text x="28.0" y="158.4">3</text>
<path class="d" d="M27,160.4 H136.8"/>
<text x="28.0" y="186.6">4</text>
<path class="d" d="M27,189.2 H82 Q85.5,189.4 86.5,193.5"/>
<text x="28.0" y="221.2">6</text>
<path class="d" d="M27,223.3 H63.6"/>
<text x="28.0" y="286.8">7</text>
<path class="d" d="M27,289.6 H110"/>
<text x="28.0" y="318.0">8</text>
<path class="d" d="M27,320.4 H122 L142.3,290"/>
<text x="28.0" y="354.8">9</text>
<path class="d" d="M27,356 H101 L115.4,370"/>
<text x="27.4" y="377.2">10</text>
<path class="d" d="M27,379.3 H152"/>
<text x="27.4" y="396.3">11</text>
<path class="d" d="M27,398.1 H70"/>
<text x="27.4" y="410.3">12</text>
<path class="d" d="M27,411.8 H152"/>
<text x="287.4" y="124.0" text-anchor="end">24</text>
<path class="d" d="M196,125.9 H287"/>
<text x="287.4" y="173.2" text-anchor="end">23</text>
<path class="d" d="M228.6,175.2 H287"/>
<text x="287.4" y="207.8" text-anchor="end">22</text>
<path class="d" d="M164,209.5 H287"/>
<text x="287.4" y="282.4" text-anchor="end">21</text>
<path class="d" d="M215.5,284.8 H287"/>
<text x="287.4" y="303.6" text-anchor="end">20</text>
<path class="d" d="M196,326 L220,305.2 H287"/>
<text x="287.4" y="319.0" text-anchor="end">19</text>
<path class="d" d="M242,320.4 H287"/>
<text x="287.4" y="346.7" text-anchor="end">18</text>
<path class="d" d="M246,348.6 H287"/>
<text x="287.4" y="370.8" text-anchor="end">17</text>
<path class="d" d="M236.4,372.5 H287"/>
<text x="287.4" y="391.2" text-anchor="end">16</text>
<path class="d" d="M240.5,393 H287"/>
<text x="287.4" y="405.2" text-anchor="end">15</text>
<path class="d" d="M240,406.7 H287"/>
<text x="287.4" y="419.8" text-anchor="end">14</text>
<path class="d" d="M210.5,429 L218,422 H287"/>
<text x="287.4" y="437.6" text-anchor="end">13</text>
<path class="d" d="M254,439.5 H287"/>

</g>
<g class="lg">
<text x="363.8" y="42" font-weight="bold" style="font-size:12.3px;stroke-width:0.3px;fill:#262626;stroke:#262626">Обозначение</text>
<text x="363.5" y="58.00">1.</text>
<text x="389.3" y="58.00" textLength="214.1" lengthAdjust="spacing">Патрубок выхода продуктов сгорания</text>
<text x="363.5" y="73.64">2.</text>
<text x="389.3" y="73.64">Пневмореле</text>
<text x="363.5" y="89.28">3.</text>
<text x="389.3" y="89.28" textLength="114.6" lengthAdjust="spacing">Конденсатосборник</text>
<text x="363.5" y="104.92">4.</text>
<text x="389.3" y="104.92" textLength="157.5" lengthAdjust="spacing">Первичный теплообменник</text>
<text x="363.5" y="120.56">6.</text>
<text x="389.3" y="120.56">Датчик температуры на подаче в контур отопления</text>
<text x="363.5" y="136.20">7.</text>
<text x="389.3" y="136.20">Горелка</text>
<text x="363.5" y="151.84">8.</text>
<text x="389.3" y="151.84">Электроды розжига</text>
<text x="363.5" y="167.48">9.</text>
<text x="389.3" y="167.48" textLength="111.2" lengthAdjust="spacing">Теплообменник ГВС</text>
<text x="363.5" y="183.12">10.</text>
<text x="389.3" y="183.12">Газовый клапан</text>
<text x="363.5" y="198.76">11.</text>
<text x="389.3" y="198.76" textLength="285.4" lengthAdjust="spacing">Предохранительный клапан контура отопления (3</text>
<text x="389.3" y="214.40">бара)</text>
<text x="363.5" y="230.04">12.</text>
<text x="389.3" y="230.04" textLength="114.7" lengthAdjust="spacing">Устройство розжига</text>
<text x="363.5" y="245.68">13.</text>
<text x="389.3" y="245.68">Манометр</text>
<text x="363.5" y="261.32">14.</text>
<text x="389.3" y="261.32" textLength="84.2" lengthAdjust="spacing">Кран подпитки</text>
<text x="363.5" y="276.96">15.</text>
<text x="389.3" y="276.96" textLength="153.1" lengthAdjust="spacing">Фильтр контура отопления</text>
<text x="363.5" y="292.60">16.</text>
<text x="389.3" y="292.60" textLength="172.8" lengthAdjust="spacing">Датчик протока в контуре&#160; ГВС</text>
<text x="363.5" y="308.24">17.</text>
<text x="389.3" y="308.24" textLength="260.0" lengthAdjust="spacing">Циркуляционный насос с воздухоотводчиком</text>
<text x="363.5" y="323.88">18.</text>
<text x="389.3" y="323.88" textLength="111.6" lengthAdjust="spacing">Реле мин. Давления</text>
<text x="363.5" y="339.52">19.</text>
<text x="389.3" y="339.52">Датчик температуры на возврате из контура</text>
<text x="389.3" y="355.16">отопления</text>
<text x="363.5" y="370.80">20.</text>
<text x="389.3" y="370.80" textLength="172.9" lengthAdjust="spacing">Привод трехходового клапана</text>
<text x="363.5" y="386.44">21.</text>
<text x="389.3" y="386.44">Электрод контроля пламени</text>
<text x="363.5" y="402.08">22.</text>
<text x="389.3" y="402.08">Камера сгорания</text>
<text x="363.5" y="417.72">23.</text>
<text x="389.3" y="417.72">Расширительный бак</text>
<text x="363.5" y="433.36">24.</text>
<text x="389.3" y="433.36">Вентилятор</text>

</g>
</svg>
</body></html>
